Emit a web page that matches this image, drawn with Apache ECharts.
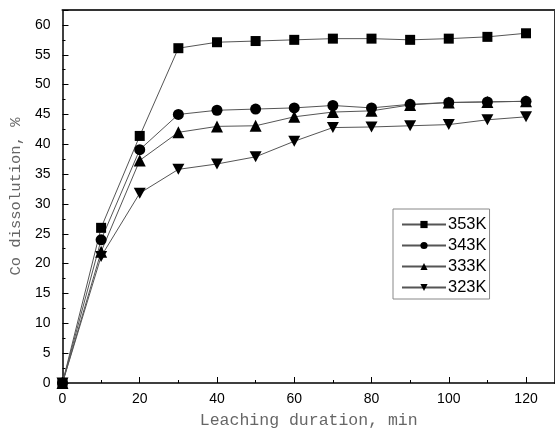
<!DOCTYPE html>
<html>
<head>
<meta charset="utf-8">
<script src="https://cdn.jsdelivr.net/npm/echarts@6/dist/echarts.min.js"></script>
<style>
  html, body { margin: 0; padding: 0; background: #fff; }
  #chart { width: 555px; height: 439px; }
</style>
</head>
<body>
<div id="chart"></div>
<script>
// leaching time, min
const times = [0, 10, 20, 30, 40, 50, 60, 70, 80, 90, 100, 110, 120];
// Co dissolution, %
const k353 = [0, 26, 41.4, 56.1, 57.1, 57.3, 57.5, 57.7, 57.7, 57.5, 57.7, 58.0, 58.6];
const k343 = [0, 24, 39.1, 45.0, 45.7, 45.9, 46.1, 46.5, 46.1, 46.7, 47.0, 47.1, 47.2];
const k333 = [0, 22, 37.3, 42.0, 43.0, 43.1, 44.6, 45.4, 45.6, 46.6, 47.0, 47.1, 47.2];
const k323 = [0, 21.2, 31.8, 35.8, 36.7, 37.9, 40.5, 42.8, 42.9, 43.1, 43.3, 44.1, 44.6];
const seriesNames = ['353K', '343K', '333K', '323K'];

const downTri = 'path://M0,0L10,0L5,9Z';

function pairs(vals) {
    return times.map((t, i) => [t, vals[i]]);
}

function mkSeries(name, vals, symbol, size) {
    return {
        name: name,
        type: 'line',
        data: pairs(vals),
        symbol: symbol,
        symbolSize: size,
        showAllSymbol: true,
        lineStyle: { color: '#555', width: 1 },
        itemStyle: { color: '#000' },
        emphasis: { disabled: true },
        z: 3
    };
}

const chart = echarts.init(document.getElementById('chart'));

const tickFont = { fontFamily: 'Liberation Sans, Arial', fontSize: 14, color: '#000' };
const titleFont = { fontFamily: 'Liberation Mono, monospace', color: '#666' };

chart.setOption({
    animation: false,
    grid: { left: 62, top: 10, right: 0, bottom: 56 },
    legend: {
        data: seriesNames,
        orient: 'vertical',
        left: 393,
        top: 209,
        padding: [7, 3, 3, 8],
        itemGap: 4,
        itemWidth: 44,
        itemHeight: 9,
        borderColor: '#888',
        borderWidth: 1,
        textStyle: { fontFamily: 'Liberation Sans, Arial', fontSize: 16.5, color: '#000', padding: [0, 0, 0, -3] }
    },
    xAxis: [{
        type: 'value',
        min: 0,
        max: 127.5,
        interval: 20,
        name: 'Leaching duration, min',
        nameLocation: 'middle',
        nameGap: 29,
        nameTextStyle: Object.assign({ fontSize: 16.5 }, titleFont),
        axisLine: { onZero: false, lineStyle: { color: '#000', width: 1.5 } },
        axisTick: { inside: true, length: 6, lineStyle: { color: '#000' } },
        minorTick: { show: true, splitNumber: 2, length: 3, lineStyle: { color: '#000' } },
        axisLabel: Object.assign({ margin: 9, showMaxLabel: false,
            formatter: v => (v % 20 === 0 ? String(v) : '') }, tickFont),
        splitLine: { show: false }
    }, {
        type: 'value',
        position: 'top',
        min: 0,
        max: 127.5,
        axisLine: { show: true, onZero: false, lineStyle: { color: '#333', width: 2 } },
        axisTick: { show: false },
        axisLabel: { show: false },
        splitLine: { show: false }
    }],
    yAxis: [{
        type: 'value',
        min: 0,
        max: 62.5,
        interval: 5,
        name: 'Co dissolution, %',
        nameLocation: 'middle',
        nameGap: 34,
        nameTextStyle: Object.assign({ fontSize: 15.5 }, titleFont),
        axisLine: { show: true, onZero: false, lineStyle: { color: '#000', width: 1.5 } },
        axisTick: { inside: true, length: 6, lineStyle: { color: '#000' } },
        minorTick: { show: true, splitNumber: 2, length: 3, lineStyle: { color: '#000' } },
        axisLabel: Object.assign({ margin: 12, showMaxLabel: false,
            formatter: v => (v % 5 === 0 ? String(v) : '') }, tickFont),
        splitLine: { show: false }
    }, {
        type: 'value',
        position: 'right',
        min: 0,
        max: 62.5,
        axisLine: { show: true, onZero: false, lineStyle: { color: '#333', width: 2 } },
        axisTick: { show: false },
        axisLabel: { show: false },
        splitLine: { show: false }
    }],
    series: [
        mkSeries(seriesNames[0], k353, 'rect', 10),
        mkSeries(seriesNames[1], k343, 'circle', 11),
        mkSeries(seriesNames[2], k333, 'triangle', 12),
        mkSeries(seriesNames[3], k323, downTri, [12, 11])
    ]
});
</script>
</body>
</html>
